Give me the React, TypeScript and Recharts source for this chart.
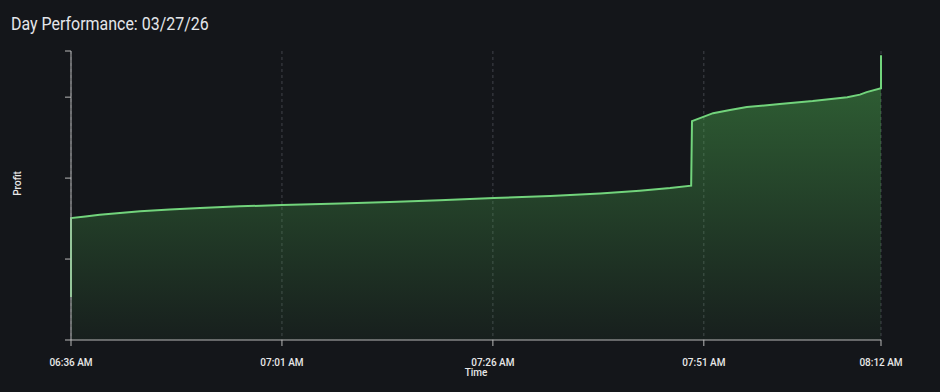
import { AreaChart, Area, XAxis, YAxis, CartesianGrid } from 'recharts';

// minutes after 06:36 AM
const minutes = [
  0, 0, 1.7, 3.4, 5.8, 8.2, 11.7, 15.3, 20, 25, 31.9, 37.8, 43.7, 50.1, 56.8, 62.7, 67.4, 71, 73.5,
  73.6, 76.1, 78.1, 80.1, 84, 87.9, 92, 93.5, 94.3, 96, 96,
];
const profit = [
  53, 150.6, 152.7, 154.8, 157, 159, 161.2, 163.1, 165.1, 166.7, 168.6, 170.6, 172.7, 175.3, 178, 181.1, 184.4, 187.7, 190.7,
  270.4, 280.2, 284, 287.7, 291.4, 295.1, 300, 303.1, 306.2, 311.1, 351.9,
];

const timeTicks = [0, 25, 50, 75, 96];
const timeLabels = ['06:36 AM', '07:01 AM', '07:26 AM', '07:51 AM', '08:12 AM'];
const profitTicks = [0, 100, 200, 300, 357];

const data = minutes.map((m, i) => ({ t: m, profit: profit[i] }));

const FONT = 'Roboto, "Noto Sans", sans-serif';

export default function App() {
  return (
    <div
      style={{
        position: 'relative',
        width: 940,
        height: 392,
        background: '#14161a',
        fontFamily: FONT,
        overflow: 'hidden',
      }}
    >
      <style>{'body{margin:0;background:#14161a}'}</style>
      <div
        style={{
          position: 'absolute',
          left: 11,
          top: 12,
          fontSize: 19,
          color: '#e4e6ea',
          lineHeight: 'normal',
          whiteSpace: 'nowrap',
          transform: 'scaleX(0.84)',
          transformOrigin: 'left top',
        }}
      >
        Day Performance: 03/27/26
      </div>
      <AreaChart
        width={940}
        height={392}
        data={data}
        margin={{ top: 51, right: 59, bottom: 0, left: 0 }}
      >
        <defs>
          <linearGradient id="profitFill" x1="0" y1="0" x2="0" y2="1">
            <stop offset="0%" stopColor="#4caf50" stopOpacity={0.85} />
            <stop offset="100%" stopColor="#4caf50" stopOpacity={0.1} />
          </linearGradient>
        </defs>
        <CartesianGrid horizontal={false} stroke="#40434a" strokeDasharray="3 3" />
        <XAxis
          dataKey="t"
          type="number"
          domain={[0, 96]}
          ticks={timeTicks}
          tickFormatter={(v: number) => timeLabels[timeTicks.indexOf(v)] ?? ''}
          height={52}
          stroke="#b8b8b8"
          tickSize={6}
          tickMargin={13}
          tick={{ fill: '#e8e8e8', fontSize: 10, fontWeight: 500, fontFamily: FONT }}
          label={({ viewBox }: any) => (
            <text
              x={viewBox.x + viewBox.width / 2}
              y={376}
              textAnchor="middle"
              fill="#e8e8e8"
              fontSize={10}
              fontWeight={500}
              fontFamily={FONT}
            >
              Time
            </text>
          )}
        />
        <YAxis
          type="number"
          domain={[0, 357]}
          ticks={profitTicks}
          tick={() => <g />}
          width={71}
          stroke="#b8b8b8"
          tickSize={6}
          label={({ viewBox }: any) => {
            const cx = 21;
            const cy = viewBox.y + viewBox.height / 2 - 12;
            return (
              <text
                x={cx}
                y={cy}
                transform={`rotate(-90 ${cx} ${cy})`}
                textAnchor="middle"
                fill="#e8e8e8"
                fontSize={10}
                fontWeight={500}
                fontFamily={FONT}
              >
                Profit
              </text>
            );
          }}
        />
        <Area
          type="linear"
          dataKey="profit"
          stroke="#72d47c"
          strokeWidth={2}
          fill="url(#profitFill)"
          isAnimationActive={false}
          dot={false}
          activeDot={false}
        />
      </AreaChart>
    </div>
  );
}
